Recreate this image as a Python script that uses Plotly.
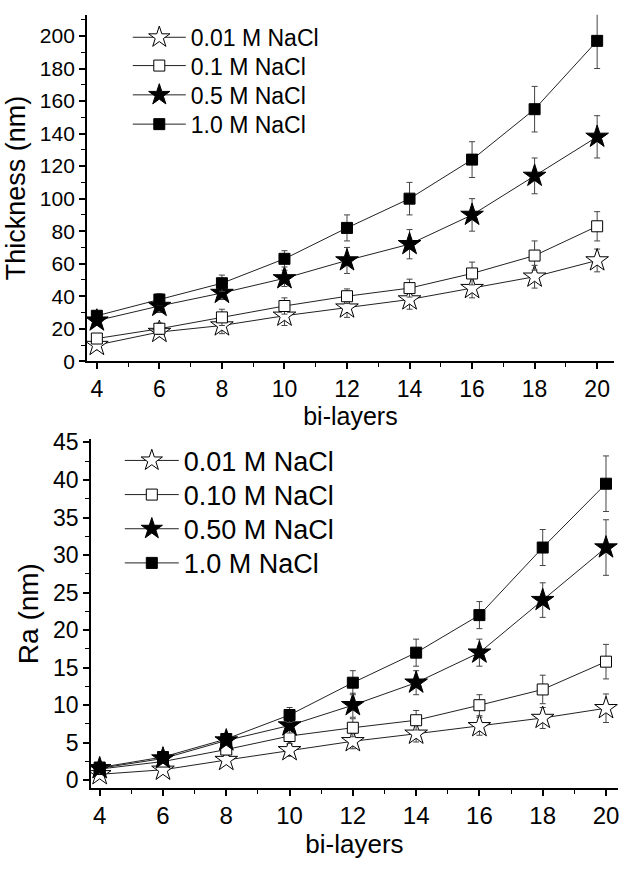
import plotly.graph_objects as go

bilayers = [4, 6, 8, 10, 12, 14, 16, 18, 20]

# Top panel: thickness (nm)
thk_labels = ["0.01 M NaCl", "0.1 M NaCl", "0.5 M NaCl", "1.0 M NaCl"]
thk_001 = [10, 18, 22, 28, 33, 38, 45, 52, 62]
thk_001_err = [3, 3, 5, 6, 6, 6, 6, 7, 7]
thk_01 = [14, 20, 27, 34, 40, 45, 54, 65, 83]
thk_01_err = [3, 3.5, 5, 5, 4.5, 5.5, 7, 9, 9]
thk_05 = [25, 34, 42, 51, 62, 72, 90, 114, 138]
thk_05_err = [3, 4, 4, 5, 8, 9, 10, 11, 13]
thk_10 = [28, 38, 48, 63, 82, 100, 124, 155, 197]
thk_10_err = [3, 3.5, 5, 5, 8, 10, 11, 14, 17]

# Bottom panel: roughness Ra (nm)
ra_labels = ["0.01 M NaCl", "0.10 M NaCl", "0.50 M NaCl", "1.0 M NaCl"]
ra_001 = [0.8, 1.4, 2.7, 4.0, 5.2, 6.2, 7.2, 8.3, 9.6]
ra_001_err = [0.3, 0.4, 0.6, 0.8, 1.0, 1.1, 1.2, 1.4, 1.9]
ra_01 = [1.5, 2.5, 4.1, 5.9, 7.0, 8.0, 10.0, 12.1, 15.8]
ra_01_err = [0.3, 0.5, 0.7, 1.0, 1.2, 1.3, 1.4, 1.9, 2.3]
ra_05 = [1.6, 2.9, 5.3, 7.3, 10.0, 13.0, 17.0, 24.0, 31.0]
ra_05_err = [0.3, 0.5, 0.6, 1.0, 1.6, 1.6, 1.8, 2.3, 3.7]
ra_10 = [1.7, 3.1, 5.5, 8.7, 13.0, 17.0, 22.0, 31.0, 39.5]
ra_10_err = [0.3, 0.5, 0.6, 1.0, 1.6, 1.8, 1.8, 2.4, 3.7]

x_ticks = [4, 6, 8, 10, 12, 14, 16, 18, 20]

FONT = "Liberation Sans, Arial, sans-serif"
symbols = [
    dict(symbol="star", color="white", size=17),
    dict(symbol="square", color="white", size=11),
    dict(symbol="star", color="black", size=17),
    dict(symbol="square", color="black", size=11),
]

fig = go.Figure()

def add_panel(ys, errs, labels, xa, ya, legend_ids):
    for y, e, lab, s, lg in zip(ys, errs, labels, symbols, legend_ids):
        fig.add_trace(go.Scatter(
            x=bilayers, y=y, name=lab, mode="lines+markers",
            xaxis=xa, yaxis=ya, legend=lg, showlegend=True,
            line=dict(color="#222222", width=1),
            marker=dict(symbol=s["symbol"], size=s["size"], color=s["color"],
                        line=dict(color="black", width=1)),
            error_y=dict(type="data", array=e, visible=True,
                         color="#444444", thickness=1, width=3),
        ))

add_panel([thk_001, thk_01, thk_05, thk_10],
          [thk_001_err, thk_01_err, thk_05_err, thk_10_err],
          thk_labels, "x", "y", ["legend", "legend2", "legend3", "legend4"])
add_panel([ra_001, ra_01, ra_05, ra_10],
          [ra_001_err, ra_01_err, ra_05_err, ra_10_err],
          ra_labels, "x2", "y2", ["legend5", "legend6", "legend7", "legend8"])

axis_common = dict(showline=True, linecolor="black", linewidth=1.5,
                   ticks="outside", ticklen=6, tickwidth=1.5, tickcolor="black",
                   showgrid=False, zeroline=False, mirror=False)

fig.update_layout(
    width=624, height=872,
    margin=dict(l=0, r=0, t=0, b=0),
    showlegend=True,
    paper_bgcolor="white", plot_bgcolor="white",
    font=dict(family=FONT, color="black"),
    xaxis=dict(domain=[0.1394, 0.9856], range=[3.68, 20.54], anchor="y",
               tickvals=x_ticks, tickfont=dict(size=23),
               minor=dict(dtick=1, tick0=4, ticks="outside", ticklen=4, tickcolor="black", tickwidth=1.2),
               title=dict(text="bi-layers", font=dict(size=25), standoff=6),
               **axis_common),
    yaxis=dict(domain=[0.5872, 0.9943], range=[0, 213], anchor="x",
               dtick=20, tick0=0, tickfont=dict(size=21),
               minor=dict(dtick=10, tick0=0, ticks="outside", ticklen=4, tickcolor="black", tickwidth=1.2),
               title=dict(text="Thickness (nm)", font=dict(size=27), standoff=6),
               **axis_common),
    xaxis2=dict(domain=[0.1458, 0.992], range=[3.72, 20.38], anchor="y2",
                tickvals=x_ticks, tickfont=dict(size=24),
                minor=dict(dtick=1, tick0=4, ticks="outside", ticklen=4, tickcolor="black", tickwidth=1.2),
                title=dict(text="bi-layers", font=dict(size=26), standoff=6),
                **axis_common),
    yaxis2=dict(domain=[0.0860, 0.4954], range=[-1, 45.4], anchor="x2",
                dtick=5, tick0=0, tickfont=dict(size=23),
                minor=dict(dtick=2.5, tick0=0, ticks="outside", ticklen=4, tickcolor="black", tickwidth=1.2),
                title=dict(text="Ra (nm)", font=dict(size=28), standoff=6),
                **axis_common),
)

# One single-row legend per series, placed at the reference row positions (pixels)
top_rows = [28, 57, 87, 117]
bot_rows = [462, 497, 532, 567]
legend_layout = {}
for i, py in enumerate(top_rows):
    key = "legend" if i == 0 else f"legend{i + 1}"
    legend_layout[key] = dict(x=128/624, y=1 - py/872, xanchor="left", yanchor="middle",
                              font=dict(size=23), itemwidth=53, visible=True,
                              bgcolor="rgba(0,0,0,0)")
for i, py in enumerate(bot_rows):
    key = f"legend{i + 5}"
    legend_layout[key] = dict(x=120/624, y=1 - py/872, xanchor="left", yanchor="middle",
                              font=dict(size=27), itemwidth=54, visible=True,
                              bgcolor="rgba(0,0,0,0)")
fig.update_layout(**legend_layout)

fig.write_html("out.html", config={"displayModeBar": False},
               post_script="document.body.style.margin='0';document.body.style.overflow='hidden';")
